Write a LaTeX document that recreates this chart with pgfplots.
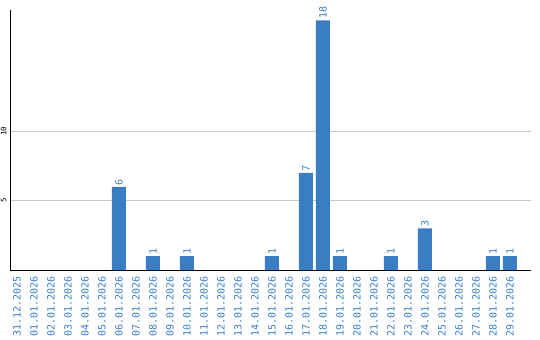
\documentclass[border=0pt]{standalone}
\usepackage{pgfplots}
\pgfplotsset{compat=1.18}
\usepackage{fontspec}
\setmainfont{DejaVu Sans}
\setmonofont{DejaVu Sans Mono}
\definecolor{barblue}{RGB}{59,125,195}
\definecolor{gridgray}{RGB}{200,200,200}
\begin{document}
\begin{tikzpicture}
\path[use as bounding box] (0,0) rectangle (540bp,340bp);
\begin{axis}[
  at={(10.3bp,70bp)}, anchor=south west,
  scale only axis, width=520.4bp, height=260bp,
  xmin=-0.39, xmax=30.22, ymin=0, ymax=18.75,
  axis x line*=bottom, axis y line*=left,
  axis line style={-, black, line width=1bp},
  major tick length=0pt,
  /pgf/number format/assume math mode=true,
  ytick={5,10}, yticklabels={5,10},
  ymajorgrids, grid style={gridgray, line width=1bp},
  xtick={0,...,29},
  xticklabels={31.12.2025,01.01.2026,02.01.2026,03.01.2026,04.01.2026,05.01.2026,06.01.2026,07.01.2026,08.01.2026,09.01.2026,10.01.2026,11.01.2026,12.01.2026,13.01.2026,14.01.2026,15.01.2026,16.01.2026,17.01.2026,18.01.2026,19.01.2026,20.01.2026,21.01.2026,22.01.2026,23.01.2026,24.01.2026,25.01.2026,26.01.2026,27.01.2026,28.01.2026,29.01.2026},
  x tick label style={rotate=90, anchor=east, inner sep=0pt, text=barblue, font=\ttfamily\fontsize{10bp}{12bp}\selectfont},
  xticklabel shift=6bp,
  y tick label style={rotate=90, anchor=south, inner sep=0pt, text=black, font=\ttfamily\fontsize{7.5bp}{9bp}\selectfont},
  yticklabel shift=3.6bp,
  ybar, bar width=14bp,
  clip=false,
  nodes near coords={\pgfmathprintnumber[assume math mode=true]{\pgfplotspointmeta}},
  every node near coord/.append style={rotate=90, anchor=west, inner sep=1.5bp, text=barblue, font=\ttfamily\fontsize{10bp}{12bp}\selectfont},
]
\addplot[fill=barblue, draw=none] coordinates {
(6,6) (8,1) (10,1) (15,1) (17,7) (18,18) (19,1) (22,1) (24,3) (28,1) (29,1)
};
\end{axis}
\end{tikzpicture}
\end{document}
